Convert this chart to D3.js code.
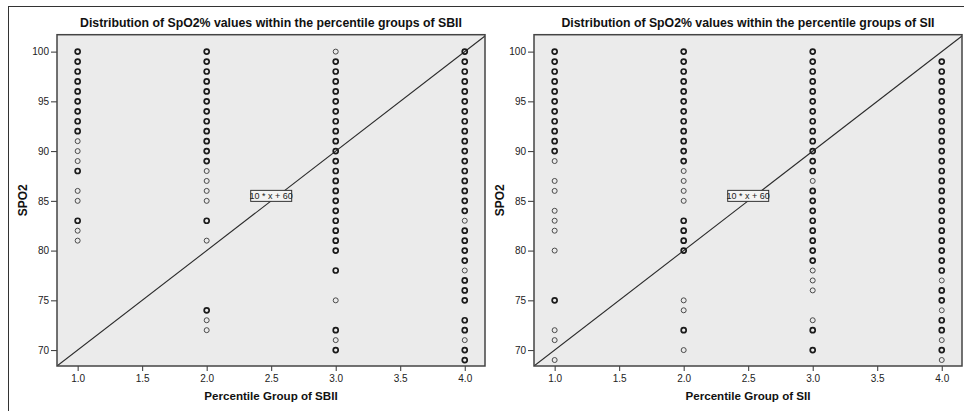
<!DOCTYPE html>
<html>
<head>
<meta charset="utf-8">
<script src="https://cdn.jsdelivr.net/npm/d3@7"></script>
<style>
  body { margin: 0; background: #fff; }
  svg { display: block; font-family: Arial, "Liberation Sans", sans-serif; }
</style>
</head>
<body>
<svg id="chart" width="964" height="411"></svg>
<script>
// Percentile groups on the x axis
const groups = [1, 2, 3, 4];
const xTicks = [1.0, 1.5, 2.0, 2.5, 3.0, 3.5, 4.0];
const yTicks = [70, 75, 80, 85, 90, 95, 100];

// SpO2 values per SBII group (left chart)
const sbiiValues = [
  [100, 99, 98, 97, 96, 95, 94, 93, 92, 91, 90, 89, 88, 86, 85, 83, 82, 81],
  [100, 99, 98, 97, 96, 95, 94, 93, 92, 91, 90, 89, 88, 87, 86, 85, 83, 81, 74, 73, 72],
  [100, 99, 98, 97, 96, 95, 94, 93, 92, 91, 90, 89, 88, 87, 86, 85, 84, 83, 82, 81, 80, 78, 75, 72, 71, 70],
  [100, 99, 98, 97, 96, 95, 94, 93, 92, 91, 90, 89, 88, 87, 86, 85, 84, 83, 82, 81, 80, 79, 78, 77, 76, 75, 73, 72, 71, 70, 69]
];
// values that look like a single case (thin ring)
const sbiiSingles = [
  [91, 90, 89, 86, 85, 82, 81],
  [88, 87, 86, 85, 81, 73, 72],
  [100, 75, 71],
  [83, 78, 71]
];

// SpO2 values per SII group (right chart)
const siiValues = [
  [100, 99, 98, 97, 96, 95, 94, 93, 92, 91, 90, 89, 87, 86, 84, 83, 82, 80, 75, 72, 71, 69],
  [100, 99, 98, 97, 96, 95, 94, 93, 92, 91, 90, 89, 88, 87, 86, 85, 83, 82, 81, 80, 75, 74, 72, 70],
  [100, 99, 98, 97, 96, 95, 94, 93, 92, 91, 90, 89, 88, 87, 86, 85, 84, 83, 82, 81, 80, 79, 78, 77, 76, 73, 72, 70],
  [99, 98, 97, 96, 95, 94, 93, 92, 91, 90, 89, 88, 87, 86, 85, 84, 83, 82, 81, 80, 79, 78, 77, 76, 75, 74, 73, 72, 71, 70, 69]
];
const siiSingles = [
  [89, 87, 86, 84, 83, 82, 80, 72, 71, 69],
  [88, 87, 86, 85, 75, 74, 70],
  [87, 78, 77, 76, 73],
  [77, 74, 71, 69]
];

const svg = d3.select("#chart");

// outer frame round both charts
svg.append("rect")
  .attr("x", 8.5).attr("y", 6.5)
  .attr("width", 970).attr("height", 420)
  .attr("fill", "none")
  .attr("stroke", "#333")
  .attr("stroke-width", 1);

function drawPanel(opts) {
  const { left, right, title, xTitle, values, singles, id } = opts;
  const top = 34.7, bottom = 366;

  const x = d3.scaleLinear().domain([0.84, 4.157]).range([left, right]);
  const y = d3.scaleLinear().domain([68.4, 101.7]).range([bottom, top]);

  const g = svg.append("g");

  g.append("rect")
    .attr("x", left).attr("y", top)
    .attr("width", right - left).attr("height", bottom - top)
    .attr("fill", "#ebebeb");

  // clip for the reference line
  g.append("clipPath").attr("id", id)
    .append("rect")
    .attr("x", left).attr("y", top)
    .attr("width", right - left).attr("height", bottom - top);

  const lineX = x.domain();
  g.append("path")
    .datum(lineX)
    .attr("clip-path", `url(#${id})`)
    .attr("fill", "none")
    .attr("stroke", "#2a2a2a")
    .attr("stroke-width", 1.1)
    .attr("d", d3.line().x(d => x(d)).y(d => y(10 * d + 60)));

  // points
  groups.forEach((grp, i) => {
    g.append("g")
      .selectAll("circle")
      .data(values[i])
      .join("circle")
      .attr("cx", x(grp))
      .attr("cy", d => y(d))
      .attr("r", 2.5)
      .attr("fill", "none")
      .attr("stroke", d => singles[i].includes(d) ? "#4a4a4a" : "#1a1a1a")
      .attr("stroke-width", d => singles[i].includes(d) ? 1.0 : 1.7);
  });

  // axes
  const yAxis = g.append("g")
    .attr("transform", `translate(${left},0)`)
    .call(d3.axisLeft(y).tickValues(yTicks).tickSize(6).tickPadding(2));
  const xAxis = g.append("g")
    .attr("transform", `translate(0,${bottom})`)
    .call(d3.axisBottom(x).tickValues(xTicks).tickFormat(d3.format(".1f")).tickSize(5).tickPadding(4));
  [yAxis, xAxis].forEach(a => {
    a.select(".domain").remove();
    a.selectAll("line").attr("stroke", "#333");
    a.selectAll("text").attr("fill", "#222").attr("font-size", "10px");
  });

  // frame
  g.append("rect")
    .attr("x", left).attr("y", top)
    .attr("width", right - left).attr("height", bottom - top)
    .attr("fill", "none")
    .attr("stroke", "#444")
    .attr("stroke-width", 1.5);

  // equation label
  const bx = x(2.5), by = y(85.5);
  g.append("rect")
    .attr("x", bx - 20.5).attr("y", by - 5.5)
    .attr("width", 41).attr("height", 11)
    .attr("fill", "#f4f4f4")
    .attr("stroke", "#333")
    .attr("stroke-width", 1);
  g.append("text")
    .attr("x", bx).attr("y", by + 3.3)
    .attr("text-anchor", "middle")
    .attr("font-size", "9px")
    .attr("fill", "#222")
    .text("10 * x + 60");

  g.append("text")
    .attr("x", (left + right) / 2).attr("y", 26.5)
    .attr("text-anchor", "middle")
    .attr("font-size", "12.3px")
    .attr("font-weight", "bold")
    .attr("fill", "#111")
    .text(title);

  g.append("text")
    .attr("x", (left + right) / 2).attr("y", 399.5)
    .attr("text-anchor", "middle")
    .attr("font-size", "11.6px")
    .attr("font-weight", "bold")
    .attr("fill", "#111")
    .text(xTitle);

  g.append("text")
    .attr("transform", `translate(${left - 30},${(top + bottom) / 2}) rotate(-90)`)
    .attr("text-anchor", "middle")
    .attr("font-size", "12px")
    .attr("font-weight", "bold")
    .attr("fill", "#111")
    .text("SPO2");
}

drawPanel({
  id: "clipL", left: 57, right: 485,
  title: "Distribution of SpO2% values within the percentile groups of SBII",
  xTitle: "Percentile Group of SBII",
  values: sbiiValues, singles: sbiiSingles
});

drawPanel({
  id: "clipR", left: 534, right: 962,
  title: "Distribution of SpO2% values within the percentile groups of SII",
  xTitle: "Percentile Group of SII",
  values: siiValues, singles: siiSingles
});
</script>
</body>
</html>
